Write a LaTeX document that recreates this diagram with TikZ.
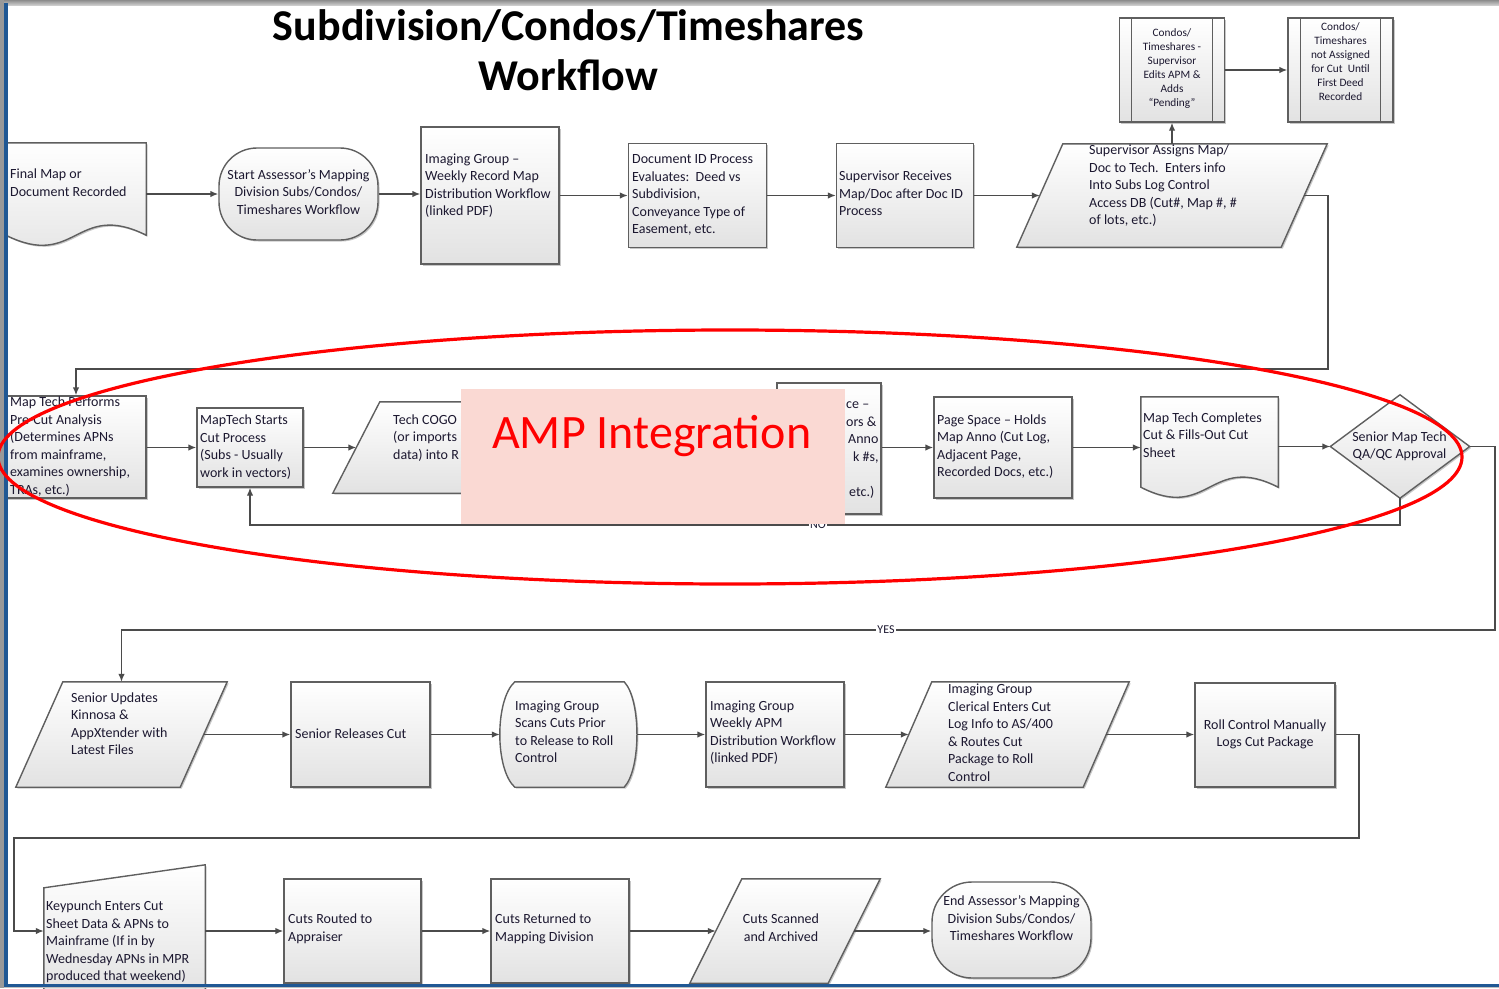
\documentclass[tikz,border=0pt]{standalone}
\usepackage{fontspec}
\setmainfont{Carlito}
\usetikzlibrary{arrows.meta,calc,shadows}

\definecolor{boxc}{RGB}{95,95,95}
\definecolor{boxbot}{RGB}{226,226,226}
\definecolor{linec}{RGB}{75,75,75}
\definecolor{txtc}{RGB}{28,24,48}
\definecolor{pinkbg}{RGB}{250,217,211}
\definecolor{frameblue}{RGB}{32,88,148}
\definecolor{ampred}{RGB}{255,0,0}

% stacked text lines, left or centred
\newcommand\lefttab[1]{\begin{tabular}{@{}l@{}}#1\end{tabular}}
\newcommand\centtab[1]{\begin{tabular}{@{}c@{}}#1\end{tabular}}

\begin{document}
\begin{tikzpicture}[x=1pt, y=-1pt,
  shd/.style={drop shadow={shadow xshift=1.5pt, shadow yshift=-1.5pt, opacity=0.22, fill=black}},
  boxfill/.style={draw=boxc, line width=1.4pt, top color=white, bottom color=boxbot, shd},
  box/.style={boxfill, rectangle, inner sep=0pt},
  frm/.style={rectangle, inner sep=0pt, draw=none},
  txt/.style={text=txtc, inner sep=0pt, font=\fontsize{14}{17.5}\selectfont},
  stxt/.style={text=txtc, inner sep=0pt, font=\fontsize{11.3}{14}\selectfont},
  arr/.style={draw=linec, line width=1.4pt, -{Latex[length=8pt,width=6.5pt]}},
  lbl/.style={fill=white, text=txtc, inner sep=1pt, font=\fontsize{12}{14}\selectfont},
  innerln/.style={draw=boxc, line width=1.2pt}
]
\useasboundingbox (0,0) rectangle (1499,988);
\fill[white] (0,0) rectangle (1499,988);

% ---------- title ----------
\node[anchor=base, font=\fontsize{44}{50}\selectfont\bfseries, align=center, text=black, inner sep=0pt] (title) at (568.5,90) {Subdivision/Condos/Timeshares\\Workflow};

% ---------- row 1 ----------
\node[frm, minimum width=140pt, minimum height=92pt] (n1) at (76,189) {};
\path[boxfill] (n1.north west) -- (n1.north east) -- (n1.south east)
  .. controls ($(n1.south)+(0,-35)$) and ($(n1.south)+(0,35)$) .. (n1.south west) -- cycle;
\node[box, rounded corners=38pt, minimum width=159pt, minimum height=92pt] (n2) at (298.5,194) {};
\node[box, minimum width=138pt, minimum height=137pt] (n3) at (490,195.5) {};
\node[box, minimum width=138pt, minimum height=104pt] (n4) at (697.5,195.5) {};
\node[box, minimum width=137pt, minimum height=104pt] (n5) at (905,195.5) {};
\node[frm, minimum width=264pt, minimum height=103pt] (n6) at (1172,195.5) {};
\path[boxfill] ($(n6.north west)+(23,0)$) -- ($(n6.north east)+(23,0)$) -- ($(n6.south east)+(-23,0)$) -- ($(n6.south west)+(-23,0)$) -- cycle;
\node[box, minimum width=105pt, minimum height=104pt] (n7) at (1172,70) {};
\draw[innerln] ($(n7.north west)+(13,0)$) -- ($(n7.south west)+(13,0)$)
               ($(n7.north east)+(-13,0)$) -- ($(n7.south east)+(-13,0)$);
\node[box, minimum width=105pt, minimum height=104pt] (n8) at (1340.5,70) {};
\draw[innerln] ($(n8.north west)+(13,0)$) -- ($(n8.south west)+(13,0)$)
               ($(n8.north east)+(-13,0)$) -- ($(n8.south east)+(-13,0)$);

% ---------- row 2 ----------
\node[box, minimum width=140pt, minimum height=102pt] (n9) at (76,447) {};
\node[box, minimum width=106pt, minimum height=79pt] (n10) at (250,447.5) {};
\node[frm, minimum width=210pt, minimum height=91pt] (n11) at (461.5,447.5) {};
\path[boxfill] ($(n11.north west)+(23.5,0)$) -- ($(n11.north east)+(23.5,0)$) -- ($(n11.south east)+(-23.5,0)$) -- ($(n11.south west)+(-23.5,0)$) -- cycle;
\node[box, minimum width=104pt, minimum height=131pt] (n12) at (829,448.5) {};
\node[box, minimum width=138pt, minimum height=101pt] (n13) at (1003,447.5) {};
\node[frm, minimum width=137pt, minimum height=90pt] (n14) at (1209.5,442) {};
\path[boxfill] (n14.north west) -- (n14.north east) -- (n14.south east)
  .. controls ($(n14.south)+(0,-35)$) and ($(n14.south)+(0,35)$) .. (n14.south west) -- cycle;
\node[frm, minimum width=139pt, minimum height=103pt] (n15) at (1400,446.5) {};
\path[boxfill] (n15.north) -- (n15.east) -- (n15.south) -- (n15.west) -- cycle;

% ---------- row 3 ----------
\node[frm, minimum width=164pt, minimum height=105pt] (n16) at (121.5,734.5) {};
\path[boxfill] ($(n16.north west)+(23.5,0)$) -- ($(n16.north east)+(23.5,0)$) -- ($(n16.south east)+(-23.5,0)$) -- ($(n16.south west)+(-23.5,0)$) -- cycle;
\node[box, minimum width=139pt, minimum height=105pt] (n17) at (360.5,734.5) {};
\node[frm, minimum width=137pt, minimum height=105pt] (n18) at (568.5,734.5) {};
\path[boxfill] ($(n18.north west)+(15,0)$) -- ($(n18.north east)+(-13,0)$)
  .. controls ($(n18.north east)+(4,18)$) and ($(n18.south east)+(4,-18)$) .. ($(n18.south east)+(-13,0)$)
  -- ($(n18.south west)+(15,0)$)
  .. controls ($(n18.south west)+(-5,-18)$) and ($(n18.north west)+(-5,18)$) .. ($(n18.north west)+(15,0)$) -- cycle;
\node[box, minimum width=138pt, minimum height=105pt] (n19) at (775,734.5) {};
\node[frm, minimum width=197pt, minimum height=105pt] (n20) at (1007.5,734.5) {};
\path[boxfill] ($(n20.north west)+(23,0)$) -- ($(n20.north east)+(23,0)$) -- ($(n20.south east)+(-23,0)$) -- ($(n20.south west)+(-23,0)$) -- cycle;
\node[box, minimum width=140pt, minimum height=104pt] (n21) at (1265,735) {};

% ---------- row 4 ----------
\node[frm, minimum width=161pt, minimum height=132pt] (n22) at (124.5,931) {};
\path[boxfill] ($(n22.north west)+(0,23)$) -- (n22.north east) -- (n22.south east) -- (n22.south west) -- cycle;
\node[box, minimum width=137pt, minimum height=104pt] (n23) at (352.5,931) {};
\node[box, minimum width=138pt, minimum height=104pt] (n24) at (560,931) {};
\node[frm, minimum width=138pt, minimum height=104pt] (n25) at (785,931) {};
\path[boxfill] ($(n25.north west)+(26,0)$) -- ($(n25.north east)+(26,0)$) -- ($(n25.south east)+(-26,0)$) -- ($(n25.south west)+(-26,0)$) -- cycle;
\node[box, rounded corners=40pt, minimum width=159pt, minimum height=96pt] (n26) at (1011.5,930) {};

% ---------- texts ----------
\node[txt, anchor=west] (t1) at (10,184) {\lefttab{Final Map or\\Document Recorded}};
\node[txt] (t2) at (298.5,193) {\centtab{Start Assessor’s Mapping\\Division Subs/Condos/\\Timeshares Workflow}};
\node[txt, anchor=west] (t3) at (425,186) {\lefttab{Imaging Group –\\Weekly Record Map\\Distribution Workflow\\(linked PDF)}};
\node[txt, anchor=west] (t4) at (632,195) {\lefttab{Document ID Process\\Evaluates:\ \ Deed vs\\Subdivision,\\Conveyance Type of\\Easement, etc.}};
\node[txt, anchor=west] (t5) at (839,194.5) {\lefttab{Supervisor Receives\\Map/Doc after Doc ID\\Process}};
\node[txt, anchor=west] (t6) at (1089,186) {\lefttab{Supervisor Assigns Map/\\Doc to Tech.\ \ Enters info\\Into Subs Log Control\\Access DB (Cut\#, Map \#, \#\\of lots, etc.)}};
\node[stxt] (t7) at (1172,69) {\centtab{Condos/\\Timeshares -\\Supervisor\\Edits APM \&\\Adds\\“Pending”}};
\node[stxt] (t8) at (1340.5,63) {\centtab{Condos/\\Timeshares\\not Assigned\\for Cut\ \ Until\\First Deed\\Recorded}};

\node[txt, anchor=west] (t9) at (10,447) {\lefttab{Map Tech Performs\\Pre-Cut Analysis\\(Determines APNs\\from mainframe,\\examines ownership,\\TRAs, etc.)}};
\node[txt, anchor=west] (t10) at (200,447.5) {\lefttab{MapTech Starts\\Cut Process\\(Subs - Usually\\work in vectors)}};
\node[txt, anchor=west] (t11) at (393,438) {\lefttab{Tech COGO\\(or imports\\data) into R}};
\node[txt, anchor=west] (t12) at (846,449) {\lefttab{ce –\\ors \&\\\hspace*{2pt}Anno\\\hspace*{7pt}k \#s,\\ \\\hspace*{3pt}etc.)}};
\node[txt, anchor=west] (t13) at (937,447) {\lefttab{Page Space – Holds\\Map Anno (Cut Log,\\Adjacent Page,\\Recorded Docs, etc.)}};
\node[txt, anchor=west] (t14) at (1143,436) {\lefttab{Map Tech Completes\\Cut \& Fills-Out Cut\\Sheet}};
\node[txt] (t15) at (1399.5,446.5) {\centtab{Senior Map Tech\\QA/QC Approval}};

\node[txt, anchor=west] (t16) at (71,725) {\lefttab{Senior Updates\\Kinnosa \&\\AppXtender with\\Latest Files}};
\node[txt, anchor=west] (t17) at (295,734) {Senior Releases Cut};
\node[txt, anchor=west] (t18) at (515,733) {\lefttab{Imaging Group\\Scans Cuts Prior\\to Release to Roll\\Control}};
\node[txt, anchor=west] (t19) at (710,733) {\lefttab{Imaging Group\\Weekly APM\\Distribution Workflow\\(linked PDF)}};
\node[txt, anchor=west] (t20) at (948,734) {\lefttab{Imaging Group\\Clerical Enters Cut\\Log Info to AS/400\\\& Routes Cut\\Package to Roll\\Control}};
\node[txt] (t21) at (1265,734.5) {\centtab{Roll Control Manually\\Logs Cut Package}};

\node[txt, anchor=west] (t22) at (46,942) {\lefttab{Keypunch Enters Cut\\Sheet Data \& APNs to\\Mainframe (If in by\\Wednesday APNs in MPR\\produced that weekend)}};
\node[txt, anchor=west] (t23) at (288,929) {\lefttab{Cuts Routed to\\Appraiser}};
\node[txt, anchor=west] (t24) at (495,929) {\lefttab{Cuts Returned to\\Mapping Division}};
\node[txt] (t25) at (781,929) {\centtab{Cuts Scanned\\and Archived}};
\node[txt] (t26) at (1011.5,919.5) {\centtab{End Assessor’s Mapping\\Division Subs/Condos/\\Timeshares Workflow}};

% ---------- connectors ----------
\draw[arr] (n1.east |- n2.west) -- (n2.west);
\draw[arr] (n2.east) -- (n2.east -| n3.west);
\draw[arr] (n3.east) -- (n4.west);
\draw[arr] (n4.east) -- (n5.west);
\draw[arr] (n5.east) -- (n6.west);
\draw[arr] (n6.north) -- (n7.south);
\draw[arr] (n7.east) -- (n8.west);
\coordinate (k1) at (1328,369);
\draw[arr] (n6.east) -| (k1) -| (n9.north);

\draw[arr] (n9.east |- n10.west) -- (n10.west);
\draw[arr] (n10.east) -- (n11.west);
\draw[arr] (n11.east) -- (n11.east -| n12.west);
\draw[arr] (n12.east |- n13.west) -- (n13.west);
\draw[arr] (n13.east) -- (n13.east -| n14.west);
\draw[arr] (n14.east |- n15.west) -- (n15.west);
\coordinate (kno) at (818,525);
\draw[arr] (n15.south) |- (kno) -| (n10.south);
\coordinate (k2) at (1495,630);
\coordinate (kyes) at (886,630);
\draw[arr] (n15.east) -| (k2) -- (kyes) -| (n16.north);
\node[lbl] (lno) at (kno) {NO};
\node[lbl] (lyes) at (kyes) {YES};

\draw[arr] (n16.east) -- (n17.west);
\draw[arr] (n17.east) -- (n18.west);
\draw[arr] (n18.east) -- (n19.west);
\draw[arr] (n19.east) -- (n20.west);
\draw[arr] (n20.east) -- (n20.east -| n21.west);
\coordinate (k3) at (1359,838);
\coordinate (k4) at (14,838);
\draw[arr] (n21.east |- n20.east) -| (k3) -- (k4) |- (n22.west);

\draw[arr] (n22.east |- n23.west) -- (n23.west);
\draw[arr] (n23.east) -- (n24.west);
\draw[arr] (n24.east) -- (n25.west);
\draw[arr] (n25.east) -- (n25.east -| n26.west);

% ---------- highlight ----------
\node[fill=pinkbg, minimum width=384pt, minimum height=135pt, inner sep=0pt] (amp) at (653,456.5) {};
\node[anchor=base west, inner sep=0pt, text=ampred, font=\fontsize{48}{56}\selectfont] (ampt) at (492,448) {AMP Integration};

% ---------- slide frame ----------
\fill[top color=black!45, bottom color=black!20] (0,0) rectangle (1499,5);
\fill[black!40] (0,0) rectangle (3.5,988);
\fill[frameblue] (4,3) rectangle (7.5,988);
\fill[frameblue] (4,983.5) rectangle (1499,986.5);
\fill[black!25] (4,986.5) rectangle (1499,988);

\draw[ampred, line width=3.2pt] (730,457) ellipse [x radius=732pt, y radius=127pt];
\end{tikzpicture}
\end{document}
